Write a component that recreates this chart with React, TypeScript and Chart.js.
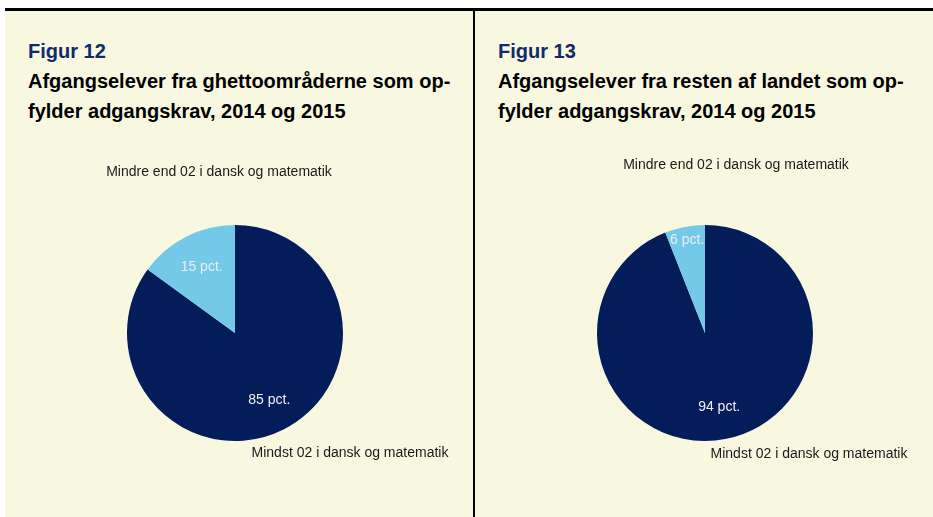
import React, { useEffect, useRef } from "react";
import { Chart, registerables } from "chart.js";

Chart.register(...registerables);

const categories = ["Mindst 02 i dansk og matematik", "Mindre end 02 i dansk og matematik"];
const ghettoValues = [85, 15];
const restValues = [94, 6];
const ghettoSliceLabels = ["85 pct.", "15 pct."];
const restSliceLabels = ["94 pct.", "6 pct."];
const sliceColors = ["#041d5a", "#74c8e8"];

const FONT = "'Liberation Sans', Arial, Helvetica, sans-serif";

type PanelCfg = {
  values: number[];
  sliceLabels: string[];
  labelRadius: number[];
  outerOffsets: { dx: number; dy: number }[];
};

const labelPlugin = {
  id: "pieLabels",
  afterDatasetsDraw(chart: any) {
    const cfg: PanelCfg = chart.options.plugins.pieLabels;
    const ctx = chart.ctx;
    const meta = chart.getDatasetMeta(0);
    ctx.save();
    ctx.textAlign = "center";
    ctx.textBaseline = "middle";
    meta.data.forEach((arc: any, i: number) => {
      const { x, y, startAngle, endAngle, outerRadius } = arc.getProps(
        ["x", "y", "startAngle", "endAngle", "outerRadius"],
        true
      );
      const mid = (startAngle + endAngle) / 2;
      const r = outerRadius * cfg.labelRadius[i];
      ctx.font = `14px ${FONT}`;
      ctx.fillStyle = "#eeeeee";
      ctx.fillText(cfg.sliceLabels[i], x + Math.cos(mid) * r, y + Math.sin(mid) * r);
      const off = cfg.outerOffsets[i];
      ctx.fillStyle = "#1a1a1a";
      ctx.fillText(chart.data.labels[i], x + off.dx, y + off.dy);
    });
    ctx.restore();
  },
};

function PieCanvas({ cfg }: { cfg: PanelCfg }) {
  const ref = useRef<HTMLCanvasElement>(null);
  useEffect(() => {
    if (!ref.current) return;
    const chart = new Chart(ref.current, {
      type: "pie",
      data: {
        labels: categories,
        datasets: [
          {
            data: cfg.values,
            backgroundColor: sliceColors,
            borderWidth: 0,
          },
        ],
      },
      options: {
        animation: false,
        responsive: false,
        maintainAspectRatio: false,
        events: [],
        layout: { padding: { left: 122, top: 95, right: 129, bottom: 76 } },
        plugins: {
          legend: { display: false },
          tooltip: { enabled: false },
          title: { display: false },
          // @ts-ignore
          pieLabels: cfg,
        },
      },
      plugins: [labelPlugin],
    });
    return () => chart.destroy();
  }, []);
  return (
    <canvas
      ref={ref}
      width={467}
      height={387}
      style={{ position: "absolute", left: 0, top: 120, width: 467, height: 387 }}
    />
  );
}

function Panel({ left, fig, line1, line2, cfg }: any) {
  return (
    <div style={{ position: "absolute", left, top: 10, width: 468, height: 507 }}>
      <div
        style={{
          position: "absolute",
          left: 23,
          top: 31,
          font: `bold 20px/20px ${FONT}`,
          color: "#112a6b",
          whiteSpace: "nowrap",
        }}
      >
        {fig}
      </div>
      <div
        style={{
          position: "absolute",
          left: 23,
          top: 56,
          font: `bold 20px/30px ${FONT}`,
          color: "#000",
          whiteSpace: "nowrap",
        }}
      >
        <div>{line1}</div>
        <div>{line2}</div>
      </div>
      <PieCanvas cfg={cfg} />
    </div>
  );
}

export default function App() {
  return (
    <div
      style={{
        position: "fixed",
        left: 0,
        top: 0,
        width: 933,
        height: 517,
        background: "#ffffff",
        overflow: "hidden",
      }}
    >
      <div style={{ position: "absolute", left: 5, top: 10, width: 928, height: 507, background: "#f8f7e0" }} />
      <div style={{ position: "absolute", left: 5, top: 8, width: 928, height: 3, background: "#000" }} />
      <Panel
        left={5}
        fig="Figur 12"
        line1="Afgangselever fra ghettoområderne som op-"
        line2="fylder adgangskrav, 2014 og 2015"
        cfg={{
          values: ghettoValues,
          sliceLabels: ghettoSliceLabels,
          labelRadius: [0.7, 0.68],
          outerOffsets: [
            { dx: 115, dy: 120 },
            { dx: -16, dy: -161 },
          ],
        }}
      />
      <Panel
        left={475}
        fig="Figur 13"
        line1="Afgangselever fra resten af landet som op-"
        line2="fylder adgangskrav, 2014 og 2015"
        cfg={{
          values: restValues,
          sliceLabels: restSliceLabels,
          labelRadius: [0.7, 0.88],
          outerOffsets: [
            { dx: 104, dy: 121 },
            { dx: 31, dy: -168 },
          ],
        }}
      />
      <div style={{ position: "absolute", left: 473, top: 10, width: 2, height: 507, background: "#000" }} />
    </div>
  );
}
